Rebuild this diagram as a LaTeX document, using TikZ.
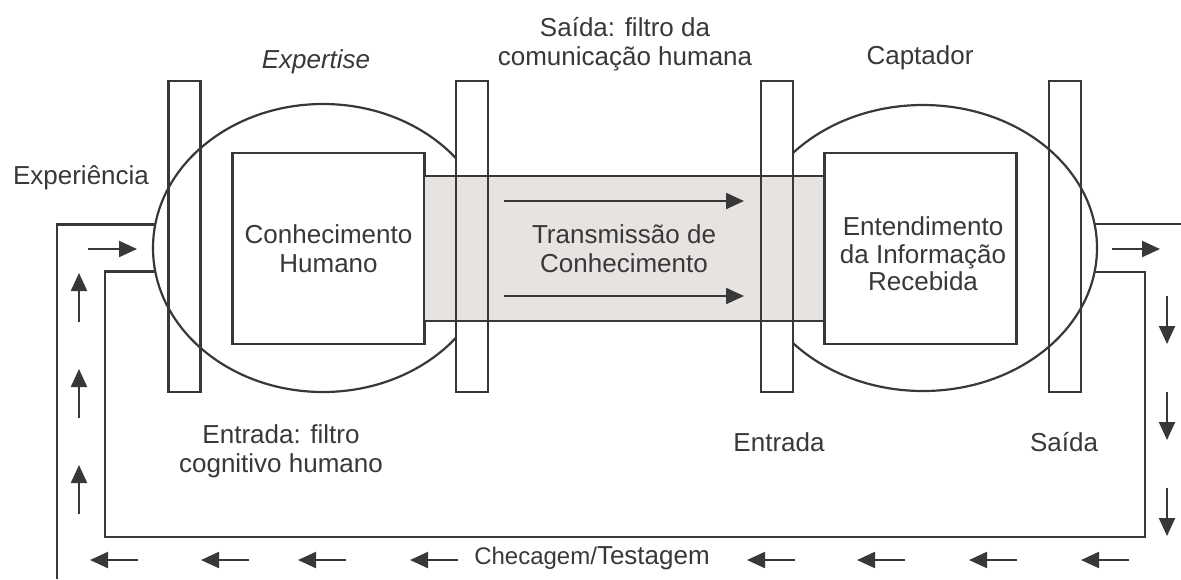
\documentclass[tikz,border=0pt]{standalone}
\usepackage{fontspec}
\setmainfont{Liberation Sans}
\usetikzlibrary{shapes.geometric,arrows.meta}
\definecolor{ink}{HTML}{38383A}
\definecolor{bandgray}{HTML}{E6E3E1}

\begin{document}
\begin{tikzpicture}[x=0.5pt,y=-0.5pt,
        every node/.style={font=\fontsize{13}{14.5}\selectfont, text=ink},
        rule/.style={draw=ink, line width=1.1pt},
        mind/.style={rule, ellipse, inner sep=0pt, outer sep=0pt},
        filterbar/.style={rule, rectangle, minimum width=16pt, minimum height=155.5pt, inner sep=0pt, outer sep=0pt},
        inbox/.style={rule, rectangle, fill=white, minimum width=96pt, minimum height=95.5pt, align=center, inner sep=0pt, outer sep=0pt},
        band/.style={rule, rectangle, fill=bandgray, minimum width=200pt, minimum height=72.5pt, align=center, inner sep=0pt, outer sep=0pt},
        flow/.style={draw=ink, line width=1.1pt, -{Triangle[length=9pt,width=8pt]}},
        caption/.style={align=center}]

    \useasboundingbox (0,0) rectangle (1181,579);

    % the two heads
    \node[mind, minimum width=170pt, minimum height=144pt] (le) at (323,248) {};
    \node[mind, minimum width=174pt, minimum height=143pt] (re) at (923,248) {};

    % filters 2 and 3 hide the ellipses
    \foreach \x in {472,777}
        \fill[white] (\x-16,81) rectangle (\x+16,392);

    \node[inbox] (kh) at (328.5,248.5) {Conhecimento\\Humano};
    \node[inbox] (ei) at (920.5,248.5) {};
    \node[caption, font=\fontsize{13}{13.8}\selectfont] (eit) at (923,254) {Entendimento\\da Informação\\Recebida};
    \node[band] (tc) at (624,248.5) {Transmissão de\\Conhecimento};

    \foreach \n/\x in {1/184.5,2/472,3/777,4/1065}
        \node[filterbar] (f\n) at (\x,236.5) {};

    \draw[flow] (504,201) -- (744,201);
    \draw[flow] (504,296) -- (744,296);

    % feedback loop
    \coordinate (lb) at (57,579);
    \coordinate (rr) at (1181,224);
    \coordinate (il) at (105,537);
    \coordinate (ir) at (1145,537);
    \draw[rule] (le.172) -| (lb);
    \draw[rule] (re.8) -- (re.8 -| rr);
    \draw[rule] (le.188.5) -| (il) -- (ir) |- (re.-8.3);

    \draw[flow] (88,249) -- (137,249);
    \draw[flow] (1112,249) -- (1160,249);
    \foreach \y in {273,369,465}
        \draw[flow] (79,\y+49) -- (79,\y);
    \foreach \y in {296,392,488}
        \draw[flow] (1167,\y) -- (1167,\y+48);
    \foreach \x in {90,201,298,410,747,857,969,1081}
        \draw[flow] (\x+48,560) -- (\x,560);

    % labels
    \node (exp) at (81,178) {Experiência};
    \node (xps) at (316,62) {\itshape Expertise};
    \node[caption] (sdtop) at (625,44) {Saída: filtro da\\comunicação humana};
    \node (cap) at (920,58) {Captador};
    \node[caption] (entl) at (281,451) {Entrada: filtro\\cognitivo humano};
    \node (entr) at (779,442) {Entrada};
    \node (sdr) at (1064,442) {Saída};
    \node (chk) at (592,558) {{\fontsize{12}{14}\selectfont Checagem/}Testagem};

\end{tikzpicture}
\end{document}
